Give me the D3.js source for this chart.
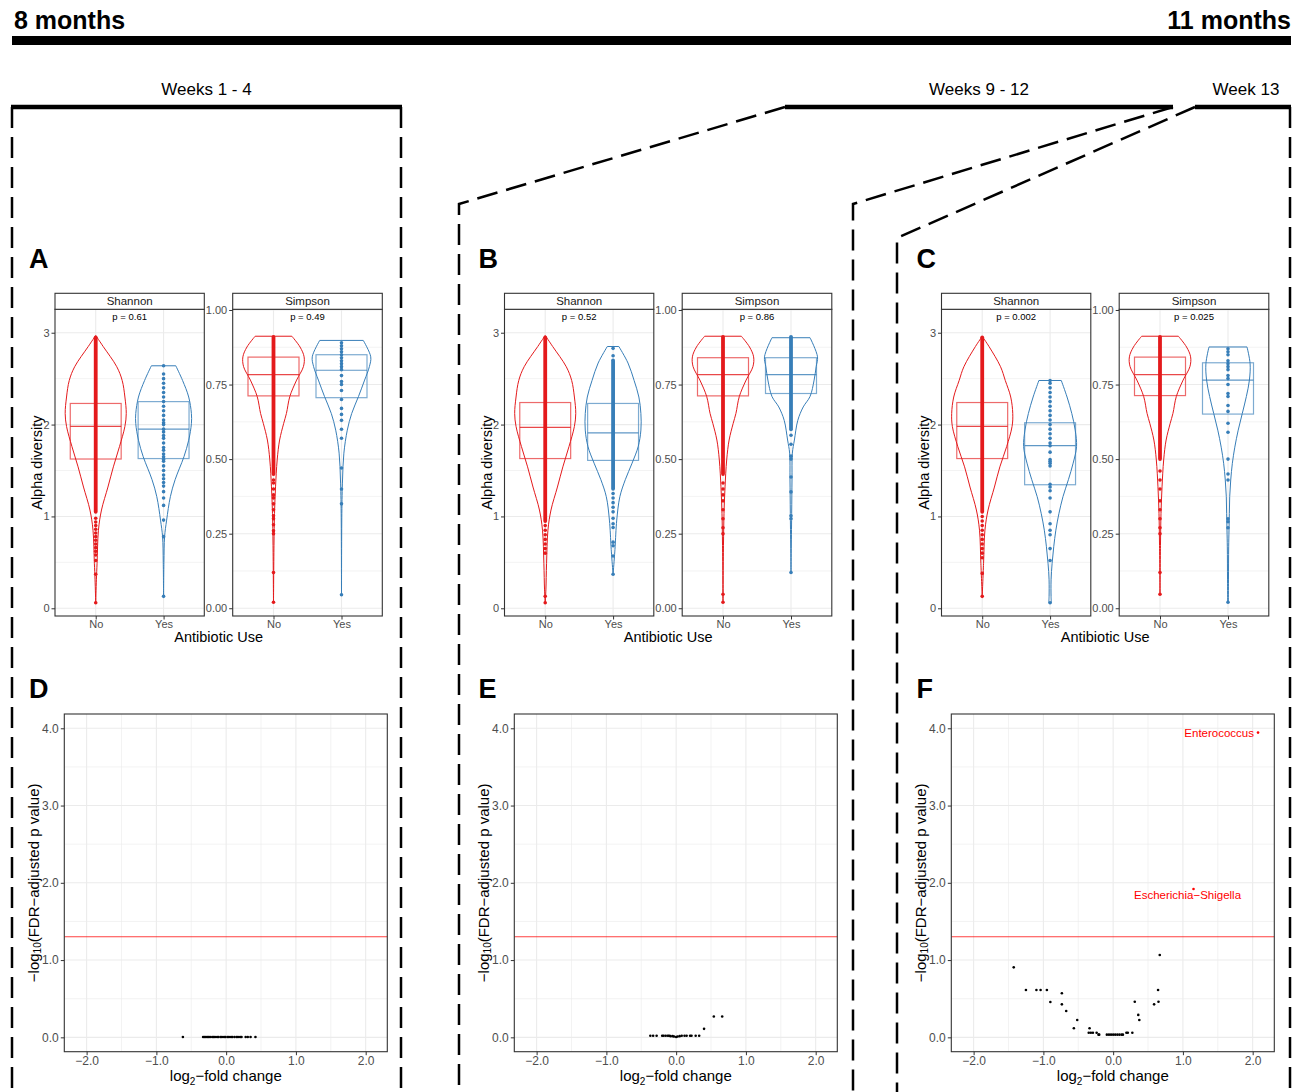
<!DOCTYPE html>
<html>
<head>
<meta charset="utf-8">
<script src="https://cdn.jsdelivr.net/npm/d3@7"></script>
<style>
  body { margin: 0; background: #fff; }
  text { font-family: "Liberation Sans", Arial, Helvetica, sans-serif; }
</style>
</head>
<body>
<svg id="fig" width="1298" height="1092"></svg>
<script>
// ---- data ----
var groups = ["No", "Yes"];
var groupColors = ["#E41A1C", "#377EB8"];
var periods = ["Weeks 1 - 4", "Weeks 9 - 12", "Week 13"];
var topLetters = ["A", "B", "C"];
var bottomLetters = ["D", "E", "F"];
var shannonP = ["0.61", "0.52", "0.002"];
var simpsonP = ["0.49", "0.86", "0.025"];
var shannonTicks = [0, 1, 2, 3];
var simpsonTicks = [0, 0.25, 0.5, 0.75, 1];
var volcanoXTicks = [-2, -1, 0, 1, 2];
var volcanoYTicks = [0, 1, 2, 3, 4];
var fdrCutoff = 0.05;

// violin outlines: [value, half width in group units]
var shannonViolinsA = [
  [[2.97,0],[2.85,0.11],[2.63,0.31],[2.48,0.39],[2.30,0.43],[2.12,0.45],[1.98,0.43],[1.76,0.35],[1.54,0.26],[1.32,0.18],[1.07,0.085],[0.85,0.04],[0.49,0.02],[0.31,0.01],[0.06,0]],
  [[2.64,0.18],[2.48,0.28],[2.30,0.37],[2.12,0.41],[2.01,0.41],[1.83,0.37],[1.65,0.30],[1.40,0.17],[1.215,0.10],[0.96,0.045],[0.78,0.015],[0.5,0.005],[0.13,0]]
];
var shannonViolinsB = [
  [[2.97,0],[2.85,0.11],[2.63,0.31],[2.48,0.39],[2.30,0.43],[2.12,0.45],[1.98,0.43],[1.76,0.35],[1.54,0.26],[1.32,0.18],[1.07,0.085],[0.85,0.04],[0.49,0.02],[0.2,0.01],[0.06,0]],
  [[2.85,0.085],[2.67,0.22],[2.48,0.31],[2.30,0.38],[2.12,0.41],[1.94,0.41],[1.76,0.37],[1.58,0.28],[1.40,0.18],[1.215,0.10],[0.96,0.054],[0.67,0.03],[0.56,0.02],[0.37,0]]
];
var shannonViolinsC = [
  [[2.96,0],[2.85,0.1],[2.63,0.27],[2.48,0.34],[2.30,0.42],[2.12,0.45],[1.98,0.44],[1.76,0.36],[1.54,0.26],[1.32,0.18],[1.07,0.086],[0.85,0.04],[0.49,0.02],[0.127,0]],
  [[2.48,0.165],[2.30,0.25],[2.12,0.32],[1.94,0.37],[1.76,0.39],[1.58,0.34],[1.40,0.27],[1.215,0.19],[1.03,0.13],[0.85,0.085],[0.67,0.054],[0.49,0.03],[0.31,0.015],[0.127,0.015],[0.06,0.02]]
];
var simpsonViolinsA = [
  [[0.912,0.27],[0.876,0.39],[0.843,0.45],[0.81,0.44],[0.765,0.34],[0.71,0.24],[0.653,0.19],[0.62,0.15],[0.564,0.09],[0.497,0.054],[0.407,0.03],[0.318,0.015],[0.21,0.007],[0.02,0]],
  [[0.898,0.32],[0.843,0.43],[0.81,0.41],[0.765,0.34],[0.71,0.25],[0.653,0.15],[0.597,0.085],[0.52,0.035],[0.43,0.015],[0.318,0.005],[0.045,0]]
];
var simpsonViolinsB = [
  [[0.912,0.27],[0.876,0.39],[0.843,0.45],[0.81,0.44],[0.765,0.34],[0.71,0.24],[0.653,0.19],[0.62,0.15],[0.564,0.09],[0.497,0.054],[0.407,0.03],[0.318,0.015],[0.21,0.007],[0.02,0]],
  [[0.907,0.28],[0.843,0.39],[0.81,0.37],[0.765,0.34],[0.71,0.28],[0.675,0.18],[0.63,0.1],[0.564,0.05],[0.52,0.02],[0.43,0.015],[0.318,0.01],[0.123,0]]
];
var simpsonViolinsC = [
  [[0.912,0.27],[0.876,0.39],[0.843,0.45],[0.81,0.44],[0.765,0.34],[0.71,0.24],[0.653,0.19],[0.62,0.15],[0.564,0.09],[0.497,0.054],[0.407,0.03],[0.318,0.015],[0.21,0.007],[0.047,0]],
  [[0.876,0.28],[0.82,0.325],[0.765,0.315],[0.71,0.27],[0.653,0.21],[0.597,0.15],[0.54,0.1],[0.486,0.064],[0.43,0.04],[0.374,0.025],[0.318,0.02],[0.262,0.015],[0.206,0.01],[0.095,0.007],[0.02,0.005]]
];

// boxes: [q1, median, q3] for No, Yes
var shannonBoxesA = [[1.625,1.98,2.23],[1.63,1.95,2.25]];
var shannonBoxesB = [[1.63,1.97,2.24],[1.61,1.91,2.23]];
var shannonBoxesC = [[1.63,1.98,2.24],[1.345,1.77,2.02]];
var simpsonBoxesA = [[0.712,0.783,0.842],[0.706,0.798,0.85]];
var simpsonBoxesB = [[0.712,0.783,0.84],[0.72,0.783,0.84]];
var simpsonBoxesC = [[0.713,0.783,0.842],[0.651,0.765,0.823]];

// samples: a dense run [lo, hi] (or null) and single points
var shannonDenseA = [[1.05,2.95], null];
var shannonDenseB = [[0.95,2.95], [1.3,2.7]];
var shannonDenseC = [[1.05,2.95], null];
var simpsonDenseA = [[0.45,0.91], null];
var simpsonDenseB = [[0.45,0.91], [0.6,0.91]];
var simpsonDenseC = [[0.5,0.91], null];

var shannonPointsA = [
  [0.06,0.37,0.52,0.58,0.62,0.66,0.7,0.74,0.78,0.82,0.86,0.9,0.94,0.98],
  [0.13,0.78,0.96,1.12,1.2,1.27,1.33,1.37,1.41,1.45,1.5,1.55,1.6,1.62,1.65,1.68,1.72,1.75,1.8,1.85,1.88,1.92,1.95,2.0,2.02,2.05,2.1,2.15,2.2,2.25,2.3,2.35,2.4,2.45,2.5,2.55,2.64]
];
var shannonPointsB = [
  [0.06,0.13,0.6,0.65,0.7,0.75,0.8,0.85,0.9],
  [0.37,0.57,0.68,0.72,0.88,0.92,0.98,1.05,1.1,1.15,1.2,1.25,2.75,2.83]
];
var shannonPointsC = [
  [0.13,0.38,0.55,0.6,0.65,0.7,0.75,0.8,0.85,0.9,0.95,1.0],
  [0.06,0.52,0.65,0.8,0.85,0.92,1.05,1.2,1.28,1.32,1.35,1.55,1.58,1.6,1.62,1.7,1.77,1.8,1.85,1.9,1.95,2.0,2.05,2.1,2.15,2.2,2.25,2.3,2.35,2.4,2.45,2.48]
];
var simpsonPointsA = [
  [0.02,0.12,0.25,0.26,0.28,0.3,0.31,0.33,0.35,0.37,0.38,0.4,0.42,0.43],
  [0.045,0.35,0.40,0.47,0.57,0.6,0.63,0.65,0.67,0.7,0.73,0.75,0.76,0.78,0.8,0.81,0.82,0.83,0.84,0.85,0.86,0.87,0.88,0.89]
];
var simpsonPointsB = [
  [0.02,0.047,0.25,0.27,0.3,0.33,0.36,0.38,0.4,0.42],
  [0.12,0.3,0.31,0.39,0.44,0.5,0.51,0.55,0.58]
];
var simpsonPointsC = [
  [0.047,0.12,0.25,0.27,0.3,0.33,0.36,0.4,0.43,0.46],
  [0.02,0.27,0.29,0.3,0.43,0.45,0.5,0.59,0.62,0.66,0.68,0.71,0.72,0.75,0.77,0.78,0.8,0.81,0.82,0.83,0.85,0.86,0.87]
];

// volcano points: [log2 fold change, -log10 FDR p]
var volcanoD = [[-0.62,0.005],[-0.33,0.005],[-0.31,0.005],[-0.29,0.005],[-0.27,0.005],[-0.25,0.005],[-0.23,0.005],[-0.2,0.005],[-0.18,0.005],[-0.16,0.005],[-0.13,0.005],[-0.11,0.005],[-0.08,0.005],[-0.06,0.005],[-0.03,0.005],[-0.01,0.005],[0.02,0.005],[0.04,0.005],[0.07,0.005],[0.09,0.005],[0.12,0.005],[0.15,0.005],[0.17,0.005],[0.2,0.005],[0.22,0.005],[0.28,0.005],[0.31,0.005],[0.35,0.005],[0.42,0.005]];
var volcanoE = [[-0.37,0.02],[-0.33,0.02],[-0.28,0.02],[-0.2,0.02],[-0.18,0.02],[-0.15,0.02],[-0.12,0.02],[-0.1,0.02],[-0.08,0.015],[-0.05,0.015],[-0.03,0.01],[0,0.005],[0.02,0.01],[0.05,0.015],[0.08,0.02],[0.12,0.02],[0.15,0.02],[0.2,0.02],[0.22,0.02],[0.28,0.02],[0.33,0.02],[0.4,0.11],[0.54,0.27],[0.66,0.27]];
var volcanoF = [[-1.425,0.906],[-1.25,0.613],[-1.10,0.613],[-1.04,0.613],[-0.95,0.613],[-0.90,0.457],[-0.735,0.57],[-0.735,0.427],[-0.673,0.34],[-0.563,0.117],[-0.515,0.224],[-0.338,0.117],[-0.35,0.06],[-0.32,0.06],[-0.29,0.06],[-0.237,0.06],[-0.21,0.035],[-0.20,0.035],[-0.09,0.035],[-0.06,0.035],[-0.03,0.035],[0.0,0.035],[0.03,0.035],[0.06,0.035],[0.09,0.035],[0.12,0.035],[0.14,0.035],[0.19,0.06],[0.21,0.06],[0.275,0.06],[0.31,0.46],[0.36,0.29],[0.375,0.224],[0.587,0.427],[0.644,0.613],[0.65,0.46],[0.668,1.066],[1.152,1.92],[2.077,3.944]];
var volcanoFLabels = [["Escherichia\u2212Shigella", 1.152, 1.92], ["Enterococcus", 2.077, 3.944]];

// ---- layout ----
var svg = d3.select("#fig");
var colShift = [0, 449.5, 886.5];
var stripTop = 293.3, panelTop = 309.3, panelBottom = 616;
var shannonX = [55, 204.3], simpsonX = [232.7, 382.3];
var vTop = 714, vBottom = 1051.7, vX = [64.3, 387.3];
var gridCol = "#EBEBEB", borderCol = "#333333", tickCol = "#4D4D4D";

// header
svg.append("text").attr("x", 14).attr("y", 29).attr("font-size", 25).attr("font-weight", "bold").text("8 months");
svg.append("text").attr("x", 1291).attr("y", 29).attr("font-size", 25).attr("font-weight", "bold")
  .attr("text-anchor", "end").text("11 months");
svg.append("rect").attr("x", 12).attr("y", 36).attr("width", 1279).attr("height", 9).attr("fill", "#000");

// period brackets
var periodSpans = [[11, 402], [785, 1173], [1195, 1291]];
periods.forEach(function(p, i){
  var s = periodSpans[i];
  svg.append("line").attr("x1", s[0]).attr("x2", s[1]).attr("y1", 107).attr("y2", 107)
    .attr("stroke", "#000").attr("stroke-width", 4.5);
  svg.append("text").attr("x", i == 2 ? 1246 : (s[0] + s[1]) / 2).attr("y", 95)
    .attr("font-size", 17).attr("text-anchor", "middle").text(p);
});

var dashed = [
  [[12,107],[12,1092]],
  [[401,107],[401,1092]],
  [[785,107],[459,204],[459,1092]],
  [[1173,107],[853,204],[853,1092]],
  [[1195,107],[897,238],[897,1092]],
  [[1290,107],[1290,1092]]
];
svg.append("g").selectAll("path").data(dashed).enter().append("path")
  .attr("d", d3.line())
  .attr("fill", "none").attr("stroke", "#000").attr("stroke-width", 2.5)
  .attr("stroke-dasharray", "21,9");

// panel letters
topLetters.forEach(function(l, i){
  svg.append("text").attr("x", 29 + colShift[i] + (i == 2 ? 1 : 0)).attr("y", 268).attr("font-size", 27)
    .attr("font-weight", "bold").text(l);
});
bottomLetters.forEach(function(l, i){
  svg.append("text").attr("x", 29 + colShift[i] + (i == 2 ? 1 : 0)).attr("y", 698).attr("font-size", 27)
    .attr("font-weight", "bold").text(l);
});

function mids(t){ return d3.pairs(t).map(function(p){ return (p[0] + p[1]) / 2; }); }

function facet(xr, yDomain, ticks, fmt, title, pText, violins, boxes, dense, points){
  var g = svg.append("g");
  var x = d3.scaleLinear().domain([0.4, 2.6]).range(xr);
  var y = d3.scaleLinear().domain(yDomain).range([panelBottom, panelTop]);

  // grid
  g.selectAll(".mn").data(mids(ticks)).enter().append("line")
    .attr("x1", xr[0]).attr("x2", xr[1]).attr("y1", y).attr("y2", y)
    .attr("stroke", gridCol).attr("stroke-width", 0.6);
  g.selectAll(".mj").data(ticks).enter().append("line")
    .attr("x1", xr[0]).attr("x2", xr[1]).attr("y1", y).attr("y2", y)
    .attr("stroke", gridCol).attr("stroke-width", 1.1);
  g.selectAll(".vx").data([1, 2]).enter().append("line")
    .attr("x1", x).attr("x2", x).attr("y1", panelTop).attr("y2", panelBottom)
    .attr("stroke", gridCol).attr("stroke-width", 1.1);

  groups.forEach(function(grp, i){
    var cx = x(i + 1), col = groupColors[i];
    var area = d3.area()
      .y(function(d){ return y(d[0]); })
      .x0(function(d){ return x(i + 1 - d[1]); })
      .x1(function(d){ return x(i + 1 + d[1]); })
      .curve(d3.curveCatmullRom);
    g.append("path").attr("d", area(violins[i])).attr("fill", "none")
      .attr("stroke", col).attr("stroke-width", 1);
    var b = boxes[i];
    g.append("rect").attr("x", x(i + 1 - 0.375)).attr("width", x(i + 1.375) - x(i + 1 - 0.375))
      .attr("y", y(b[2])).attr("height", y(b[0]) - y(b[2]))
      .attr("fill", "none").attr("stroke", col).attr("stroke-opacity", 0.65).attr("stroke-width", 1.2);
    g.append("line").attr("x1", x(i + 1 - 0.375)).attr("x2", x(i + 1.375))
      .attr("y1", y(b[1])).attr("y2", y(b[1]))
      .attr("stroke", col).attr("stroke-opacity", 0.8).attr("stroke-width", 1.2);
    if (dense[i]) {
      g.append("line").attr("x1", cx).attr("x2", cx).attr("y1", y(dense[i][0])).attr("y2", y(dense[i][1]))
        .attr("stroke", col).attr("stroke-width", 3.8).attr("stroke-linecap", "round");
    }
    g.selectAll(".pt" + i).data(points[i]).enter().append("circle")
      .attr("cx", cx).attr("cy", y).attr("r", 1.8).attr("fill", col);
  });

  // border + strip
  g.append("rect").attr("x", xr[0]).attr("y", panelTop).attr("width", xr[1] - xr[0])
    .attr("height", panelBottom - panelTop).attr("fill", "none").attr("stroke", borderCol).attr("stroke-width", 1.1);
  g.append("rect").attr("x", xr[0]).attr("y", stripTop).attr("width", xr[1] - xr[0])
    .attr("height", panelTop - stripTop).attr("fill", "#fff").attr("stroke", borderCol).attr("stroke-width", 1.1);
  g.append("text").attr("x", (xr[0] + xr[1]) / 2).attr("y", stripTop + 12).attr("text-anchor", "middle")
    .attr("font-size", 11.5).attr("fill", "#1A1A1A").text(title);
  g.append("text").attr("x", (xr[0] + xr[1]) / 2).attr("y", panelTop + 11).attr("text-anchor", "middle")
    .attr("font-size", 9.5).attr("fill", "#000").text("p = " + pText);

  // axes
  var ya = g.append("g").attr("transform", "translate(" + xr[0] + ",0)")
    .call(d3.axisLeft(y).tickValues(ticks).tickFormat(fmt).tickSize(3.5).tickPadding(2));
  var xa = g.append("g").attr("transform", "translate(0," + panelBottom + ")")
    .call(d3.axisBottom(x).tickValues([1, 2]).tickFormat(function(d){ return groups[d - 1]; }).tickSize(3.5).tickPadding(1));
  [ya, xa].forEach(function(a){
    a.select(".domain").remove();
    a.selectAll(".tick line").attr("stroke", borderCol);
    a.selectAll(".tick text").attr("fill", tickCol).attr("font-size", 11)
      .attr("font-family", "Liberation Sans, Arial, sans-serif");
  });
}

var shannonV = [shannonViolinsA, shannonViolinsB, shannonViolinsC];
var simpsonV = [simpsonViolinsA, simpsonViolinsB, simpsonViolinsC];
var shannonBx = [shannonBoxesA, shannonBoxesB, shannonBoxesC];
var simpsonBx = [simpsonBoxesA, simpsonBoxesB, simpsonBoxesC];
var shannonDn = [shannonDenseA, shannonDenseB, shannonDenseC];
var simpsonDn = [simpsonDenseA, simpsonDenseB, simpsonDenseC];
var shannonPt = [shannonPointsA, shannonPointsB, shannonPointsC];
var simpsonPt = [simpsonPointsA, simpsonPointsB, simpsonPointsC];

[0, 1, 2].forEach(function(k){
  var dx = colShift[k];
  facet([shannonX[0] + dx, shannonX[1] + dx], [-0.084, 3.255], shannonTicks, d3.format("d"),
    "Shannon", shannonP[k], shannonV[k], shannonBx[k], shannonDn[k], shannonPt[k]);
  facet([simpsonX[0] + dx, simpsonX[1] + dx], [-0.026, 1.0023], simpsonTicks, d3.format(".2f"),
    "Simpson", simpsonP[k], simpsonV[k], simpsonBx[k], simpsonDn[k], simpsonPt[k]);
  svg.append("text").attr("transform", "translate(" + (37 + dx) + "," + ((panelTop + panelBottom) / 2) + ") rotate(-90)")
    .attr("text-anchor", "middle").attr("dominant-baseline", "central").attr("font-size", 14.5).text("Alpha diversity");
  svg.append("text").attr("x", (shannonX[0] + simpsonX[1]) / 2 + dx).attr("y", 642)
    .attr("text-anchor", "middle").attr("font-size", 14.5).text("Antibiotic Use");
});

// ---- volcano plots ----
var volcanoData = [volcanoD, volcanoE, volcanoF];
var vShift = [0, 450, 887];
volcanoData.forEach(function(pts, k){
  var g = svg.append("g");
  var xr = [vX[0] + vShift[k], vX[1] + vShift[k]];
  var x = d3.scaleLinear().domain([-2.32, 2.31]).range(xr);
  var y = d3.scaleLinear().domain([-0.186, 4.185]).range([vBottom, vTop]);

  g.selectAll(".mnx").data(mids(volcanoXTicks)).enter().append("line")
    .attr("x1", x).attr("x2", x).attr("y1", vTop).attr("y2", vBottom).attr("stroke", gridCol).attr("stroke-width", 0.6);
  g.selectAll(".mny").data(mids(volcanoYTicks)).enter().append("line")
    .attr("y1", y).attr("y2", y).attr("x1", xr[0]).attr("x2", xr[1]).attr("stroke", gridCol).attr("stroke-width", 0.6);
  g.selectAll(".mjx").data(volcanoXTicks).enter().append("line")
    .attr("x1", x).attr("x2", x).attr("y1", vTop).attr("y2", vBottom).attr("stroke", gridCol).attr("stroke-width", 1.1);
  g.selectAll(".mjy").data(volcanoYTicks).enter().append("line")
    .attr("y1", y).attr("y2", y).attr("x1", xr[0]).attr("x2", xr[1]).attr("stroke", gridCol).attr("stroke-width", 1.1);

  var cut = -Math.log10(fdrCutoff);
  g.append("line").attr("x1", xr[0]).attr("x2", xr[1]).attr("y1", y(cut)).attr("y2", y(cut))
    .attr("stroke", "#FF0000").attr("stroke-opacity", 0.75).attr("stroke-width", 1.1);

  g.selectAll("circle").data(pts).enter().append("circle")
    .attr("cx", function(d){ return x(d[0]); }).attr("cy", function(d){ return y(d[1]); })
    .attr("r", 1.3).attr("fill", function(d){ return d[1] > cut ? "#FF0000" : "#000"; });

  if (k == 2) {
    volcanoFLabels.forEach(function(l, i){
      g.append("text")
        .attr("x", x(l[1]) + (i == 0 ? -6 : -4))
        .attr("y", y(l[2]) + (i == 0 ? 6.5 : 0))
        .attr("dominant-baseline", "central")
        .attr("text-anchor", i == 0 ? "middle" : "end")
        .attr("font-size", 11.5).attr("fill", "#FF0000").text(l[0]);
    });
  }

  g.append("rect").attr("x", xr[0]).attr("y", vTop).attr("width", xr[1] - xr[0]).attr("height", vBottom - vTop)
    .attr("fill", "none").attr("stroke", borderCol).attr("stroke-width", 1.1);

  var ya = g.append("g").attr("transform", "translate(" + xr[0] + ",0)")
    .call(d3.axisLeft(y).tickValues(volcanoYTicks).tickFormat(d3.format(".1f")).tickSize(3.5).tickPadding(2));
  var xa = g.append("g").attr("transform", "translate(0," + vBottom + ")")
    .call(d3.axisBottom(x).tickValues(volcanoXTicks).tickFormat(d3.format(".1f")).tickSize(3.5).tickPadding(1));
  [ya, xa].forEach(function(a){
    a.select(".domain").remove();
    a.selectAll(".tick line").attr("stroke", borderCol);
    a.selectAll(".tick text").attr("fill", tickCol).attr("font-size", 12)
      .attr("font-family", "Liberation Sans, Arial, sans-serif");
  });

  var yt = g.append("text")
    .attr("transform", "translate(" + (33 + vShift[k]) + "," + ((vTop + vBottom) / 2) + ") rotate(-90)")
    .attr("text-anchor", "middle").attr("dominant-baseline", "central").attr("font-size", 15);
  yt.append("tspan").text("\u2212log");
  yt.append("tspan").attr("font-size", 10).attr("dy", 4).text("10");
  yt.append("tspan").attr("dy", -4).text("(FDR\u2212adjusted p value)");

  var xt = g.append("text").attr("x", (xr[0] + xr[1]) / 2).attr("y", 1081)
    .attr("text-anchor", "middle").attr("font-size", 15);
  xt.append("tspan").text("log");
  xt.append("tspan").attr("font-size", 10).attr("dy", 4).text("2");
  xt.append("tspan").attr("dy", -4).text("\u2212fold change");
});
</script>
</body>
</html>
